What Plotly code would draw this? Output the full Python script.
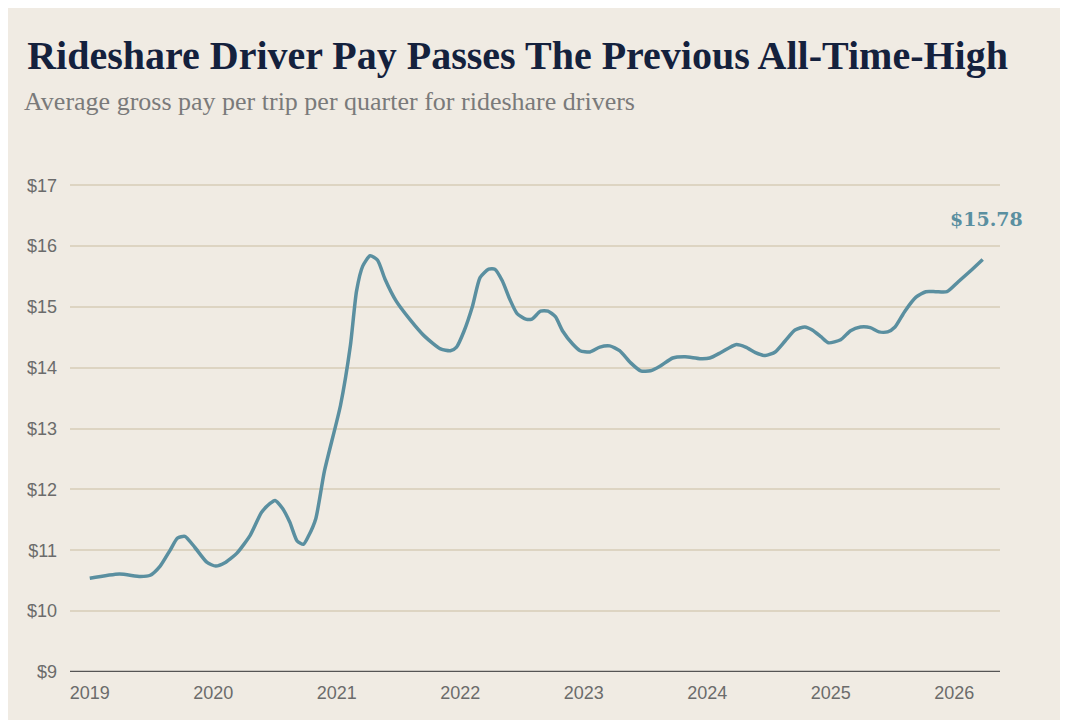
import plotly.graph_objects as go

# quarter-ish points (decimal year, $ per trip)
years = [2019.00, 2019.24, 2019.41, 2019.49, 2019.57, 2019.65, 2019.71, 2019.77, 2019.85, 2019.95,
         2020.02, 2020.09, 2020.19, 2020.30, 2020.39, 2020.46, 2020.50, 2020.56, 2020.62, 2020.68,
         2020.73, 2020.77, 2020.83, 2020.90, 2021.03, 2021.11, 2021.16, 2021.21, 2021.27, 2021.33,
         2021.39, 2021.48, 2021.59, 2021.71, 2021.84, 2021.92, 2021.97, 2022.03, 2022.10, 2022.16,
         2022.23, 2022.28, 2022.34, 2022.40, 2022.46, 2022.53, 2022.58, 2022.65, 2022.71, 2022.77,
         2022.83, 2022.91, 2022.97, 2023.05, 2023.13, 2023.21, 2023.29, 2023.38, 2023.46, 2023.54,
         2023.62, 2023.72, 2023.82, 2023.94, 2024.02, 2024.11, 2024.23, 2024.31, 2024.39, 2024.47,
         2024.55, 2024.63, 2024.71, 2024.79, 2024.85, 2024.92, 2024.98, 2025.08, 2025.16, 2025.24,
         2025.32, 2025.39, 2025.46, 2025.52, 2025.60, 2025.69, 2025.77, 2025.85, 2025.94, 2026.03,
         2026.13, 2026.23]
pay = [10.54, 10.61, 10.57, 10.59, 10.74, 11.00, 11.20, 11.23, 11.05, 10.80,
       10.74, 10.79, 10.95, 11.25, 11.62, 11.77, 11.82, 11.69, 11.46, 11.15,
       11.10, 11.23, 11.52, 12.30, 13.38, 14.36, 15.26, 15.67, 15.84, 15.77,
       15.46, 15.10, 14.80, 14.52, 14.31, 14.28, 14.34, 14.60, 15.02, 15.48,
       15.62, 15.62, 15.43, 15.13, 14.89, 14.80, 14.80, 14.93, 14.93, 14.84,
       14.60, 14.39, 14.28, 14.26, 14.34, 14.36, 14.28, 14.08, 13.95, 13.95,
       14.03, 14.16, 14.18, 14.15, 14.16, 14.25, 14.38, 14.34, 14.25, 14.20,
       14.26, 14.44, 14.62, 14.67, 14.62, 14.51, 14.41, 14.46, 14.61, 14.67,
       14.66, 14.59, 14.59, 14.67, 14.93, 15.16, 15.25, 15.25, 15.25, 15.41,
       15.59, 15.78]
x_ticks = [2019, 2020, 2021, 2022, 2023, 2024, 2025, 2026]
y_ticks = [9, 10, 11, 12, 13, 14, 15, 16, 17]

BG = "#f0ebe3"
LINE = "#5a8fa0"

fig = go.Figure()
fig.add_trace(go.Scatter(x=years, y=pay, mode="lines",
                         line=dict(color=LINE, width=3.5, shape="spline", smoothing=0.6),
                         hoverinfo="x+y"))

fig.add_annotation(x=years[-1], y=pay[-1], text="<b>$%.2f</b>" % pay[-1],
                   showarrow=False, yshift=40, xshift=4,
                   font=dict(family="DejaVu Serif", size=19, color=LINE))

fig.update_layout(
    width=1068, height=720,
    paper_bgcolor=BG, plot_bgcolor=BG,
    margin=dict(l=62, r=76, t=176, b=56),
    showlegend=False,
    title=dict(text="<b>Rideshare Driver Pay Passes The Previous All-Time-High</b>",
               x=0.018, xanchor="left", y=0.935, yanchor="middle",
               font=dict(family="Liberation Serif", size=40, color="#14213d")),
    font=dict(family="Liberation Sans", color="#6b6b6b", size=18),
)
fig.add_annotation(text="Average gross pay per trip per quarter for rideshare drivers",
                   xref="paper", yref="paper", x=-0.052, y=1.17, xanchor="left",
                   yanchor="middle", showarrow=False,
                   font=dict(family="Liberation Serif", size=26, color="#7a7a7a"))

fig.update_xaxes(range=[2018.84, 2026.37], tickvals=x_ticks, ticktext=[str(v) for v in x_ticks],
                 showgrid=False, zeroline=False, showline=False, ticks="", ticklabelstandoff=8)
fig.update_yaxes(range=[9, 17.02], tickvals=y_ticks, ticktext=["$%d" % v for v in y_ticks],
                 showgrid=True, gridcolor="#ddd4c2", gridwidth=1.5, zeroline=False,
                 ticks="", ticklabelstandoff=12)
fig.add_hline(y=9, line=dict(color="#555555", width=2.5))

fig.write_html("out.html")
